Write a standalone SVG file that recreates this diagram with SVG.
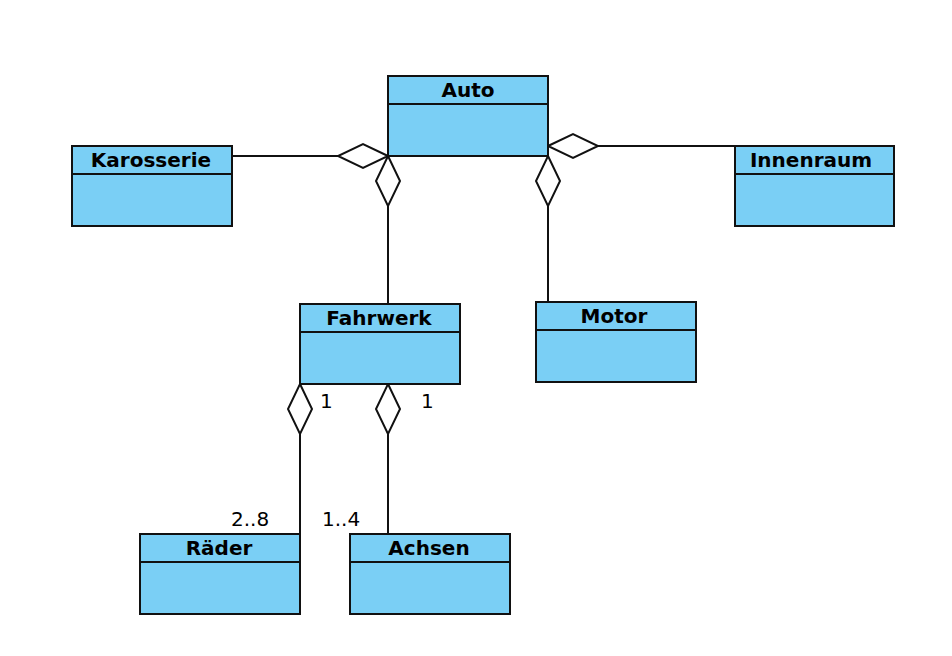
<svg xmlns="http://www.w3.org/2000/svg" width="952" height="656" viewBox="0 0 952 656">
<style>
.box{fill:#7ACFF5;stroke:#111;stroke-width:2}
.div{stroke:#111;stroke-width:2}
.t{font-family:"DejaVu Sans",sans-serif;font-weight:bold;font-size:20px;text-anchor:middle;fill:#000}
.c{fill:none;stroke:#111;stroke-width:2}
.d{fill:#fff;stroke:#111;stroke-width:2}
.m{font-family:"DejaVu Sans",sans-serif;font-size:20px;fill:#000}
</style>
<rect width="952" height="656" fill="#fff"/>
<g id="connectors">
<line class="c" x1="232" y1="156" x2="338" y2="156"/>
<polygon class="d" points="388,156 363,144 338,156 363,168"/>
<line class="c" x1="388" y1="206" x2="388" y2="304"/>
<polygon class="d" points="388,156 400,181 388,206 376,181"/>
<line class="c" x1="598" y1="146" x2="735" y2="146"/>
<polygon class="d" points="548,146 573,134 598,146 573,158"/>
<line class="c" x1="548" y1="206" x2="548" y2="302"/>
<polygon class="d" points="548,156 560,181 548,206 536,181"/>
<line class="c" x1="300" y1="434" x2="300" y2="534"/>
<polygon class="d" points="300,384 312,409 300,434 288,409"/>
<line class="c" x1="388" y1="434" x2="388" y2="534"/>
<polygon class="d" points="388,384 400,409 388,434 376,409"/>
<text class="m" x="320" y="408">1</text>
<text class="m" x="421" y="408">1</text>
<text class="m" x="231" y="526">2..8</text>
<text class="m" x="322" y="526">1..4</text>
</g>
<g id="Auto">
<rect class="box" x="388" y="76" width="160" height="80"/>
<line class="div" x1="388" y1="104" x2="548" y2="104"/>
<text class="t" x="468" y="97">Auto</text>
</g>
<g id="Karosserie">
<rect class="box" x="72" y="146" width="160" height="80"/>
<line class="div" x1="72" y1="174" x2="232" y2="174"/>
<text class="t" x="151" y="167">Karosserie</text>
</g>
<g id="Innenraum">
<rect class="box" x="735" y="146" width="159" height="80"/>
<line class="div" x1="735" y1="174" x2="894" y2="174"/>
<text class="t" x="811" y="167">Innenraum</text>
</g>
<g id="Fahrwerk">
<rect class="box" x="300" y="304" width="160" height="80"/>
<line class="div" x1="300" y1="332" x2="460" y2="332"/>
<text class="t" x="379" y="325">Fahrwerk</text>
</g>
<g id="Motor">
<rect class="box" x="536" y="302" width="160" height="80"/>
<line class="div" x1="536" y1="330" x2="696" y2="330"/>
<text class="t" x="614" y="323">Motor</text>
</g>
<g id="Raeder">
<rect class="box" x="140" y="534" width="160" height="80"/>
<line class="div" x1="140" y1="562" x2="300" y2="562"/>
<text class="t" x="219" y="555">Räder</text>
</g>
<g id="Achsen">
<rect class="box" x="350" y="534" width="160" height="80"/>
<line class="div" x1="350" y1="562" x2="510" y2="562"/>
<text class="t" x="429" y="555">Achsen</text>
</g>
</svg>
